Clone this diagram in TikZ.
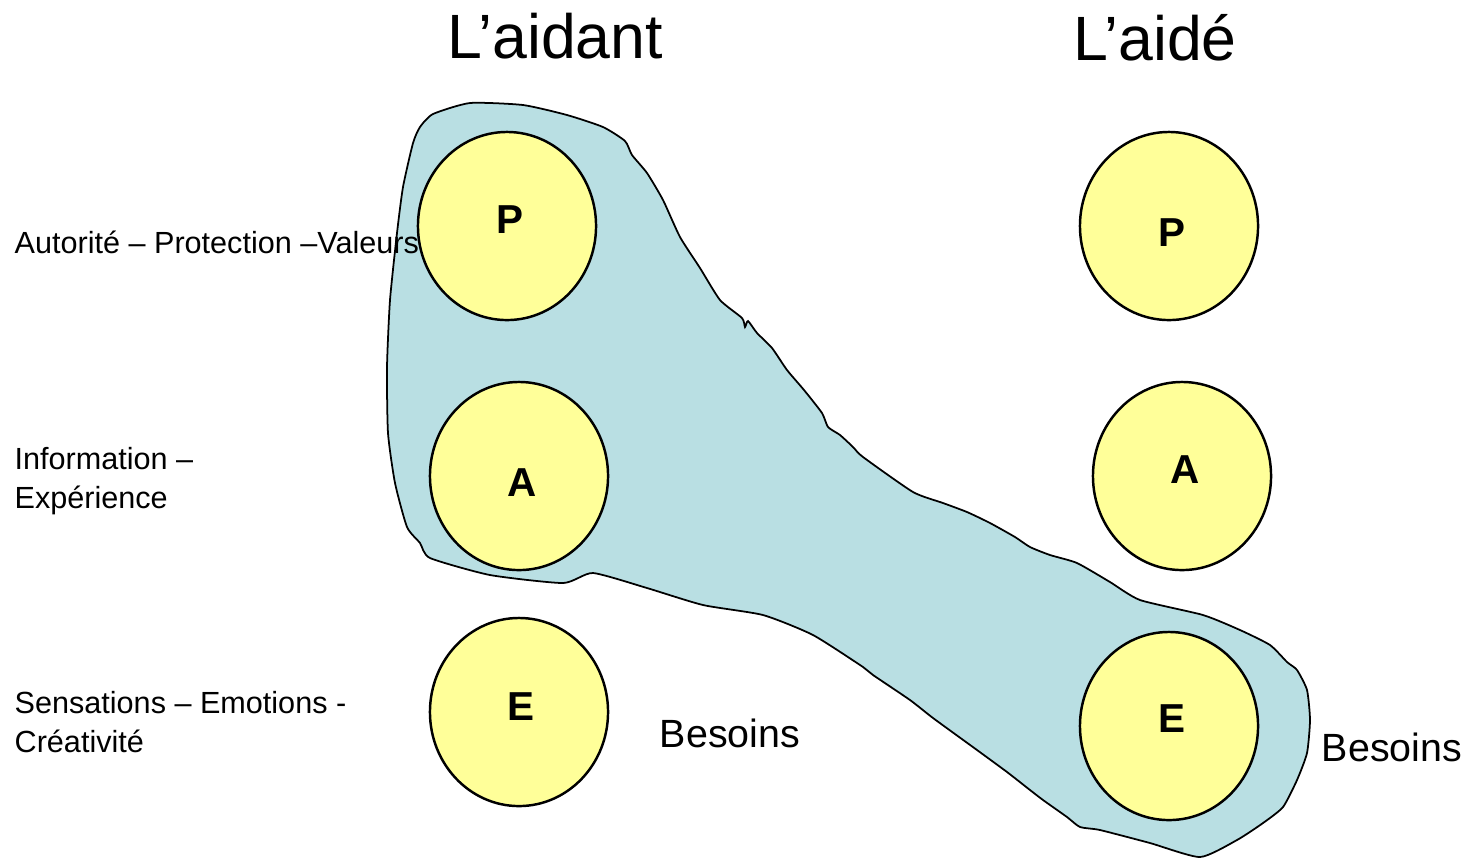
\documentclass[tikz,border=0pt]{standalone}
\usepackage{fontspec}
\setmainfont{Liberation Sans}
\usetikzlibrary{shapes.geometric}

\definecolor{bleu}{HTML}{B9DFE3}
\definecolor{jaune}{HTML}{FFFF99}

\tikzset{
  etat/.style={ellipse, draw, line width=0.7pt, fill=jaune, minimum width=1.78cm, minimum height=1.88cm, inner sep=0pt},
  lettre/.style={font=\fontsize{11.5}{13}\selectfont\bfseries},
  titre/.style={font=\fontsize{17.8}{20}\selectfont},
  besoin/.style={font=\fontsize{11.2}{13}\selectfont},
  legende/.style={font=\fontsize{8.7}{11.1}\selectfont, align=left, inner sep=0pt}
}

\begin{document}
\begin{tikzpicture}[x=0.01cm, y=-0.01cm]
            \useasboundingbox (0,0) rectangle (1470,859);

            % Zone
            \fill[bleu, draw=black, line width=0.5pt] plot[smooth cycle, tension=0.35] coordinates {
                (470,103) (523,105) (567,115) (603,127) (625,141) (632,155) (647,173) (663,200)
                (680,237) (700,268) (720,300) (742,318) (745,327) (748,321) (757,333) (772,348)
                (787,370) (804,390) (822,413) (828,427) (840,435) (853,447) (863,457) (913,492)
                (943,503) (967,512) (990,523) (1015,537) (1030,547) (1050,555) (1077,563) (1110,582)
                (1140,600) (1203,615) (1240,630) (1270,645) (1287,662) (1297,670) (1307,690) (1310,720)
                (1307,753) (1297,780) (1283,807) (1263,823) (1237,840) (1200,857) (1150,843) (1100,830)
                (1080,827) (1067,817) (1043,800) (1030,790) (1007,772) (977,750) (933,718) (910,700)
                (873,675) (863,667) (813,635) (763,615) (703,605) (647,588) (593,573) (563,583)
                (490,575) (430,558) (420,543) (407,527) (395,483) (388,433) (387,367) (390,300)
                (397,233) (403,187) (413,143) (420,127) (433,114)};

            % Etats du moi
            \foreach \nom/\x/\y/\lx/\ly/\l in {pG/507/226/510/220/P, aG/519/476/522/483/A, eG/519/712/521/707/E,
                                              pD/1169/226/1172/233/P, aD/1182/476/1185/470/A, eD/1169/726/1172/719/E}
            {
                \node[etat] (\nom) at (\x,\y) {};
                \node[lettre] (l\nom) at (\lx,\ly) {\l};
            }

            % Titres
            \node[titre] (aidant) at (555,36) {L’aidant};
            \node[titre] (aide) at (1155,38) {L’aidé};

            % Legendes
            \node[legende, anchor=base west] (autorite) at (14,253) {Autorité – Protection –Valeurs};
            \node[legende, anchor=north west] (info) at (14,447) {Information –\\Expérience};
            \node[legende, anchor=north west] (sensa) at (14,691) {Sensations – Emotions -\\Créativité};
            \node[besoin] (besG) at (730,733) {Besoins};
            \node[besoin] (besD) at (1392,747) {Besoins};
\end{tikzpicture}
\end{document}
